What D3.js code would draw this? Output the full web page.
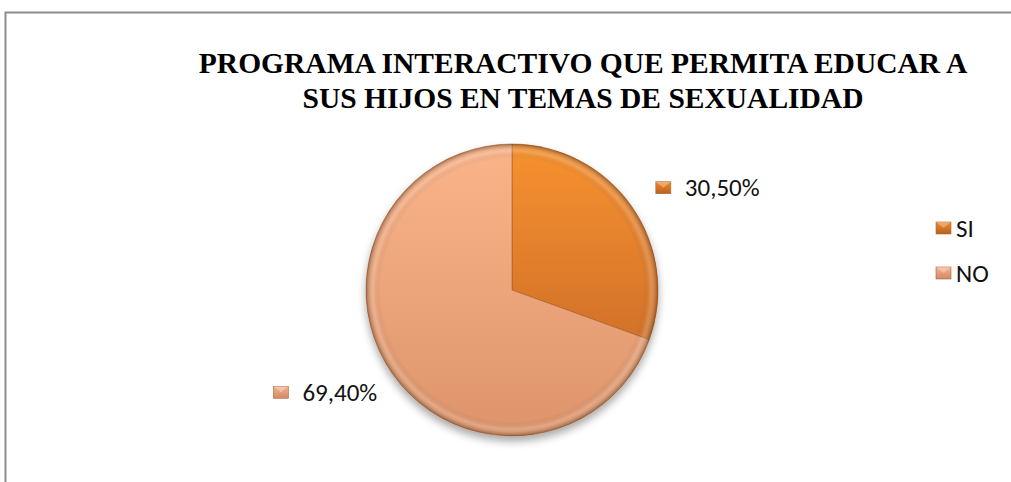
<!DOCTYPE html>
<html>
<head>
	<script src="https://d3js.org/d3.v7.min.js"></script>
	<title>Programa interactivo</title>
	<style>
		body { margin: 0; background: #fff; overflow: hidden; }
		svg { display: block; }
	</style>
</head>
<body>
	<svg id="chart" width="1011" height="482"></svg>
	<script>
		// data
		var categories = ["SI", "NO"];
		var values = [30.5, 69.4];
		var valueLabels = ["30,50%", "69,40%"];
		var titleLines = ["PROGRAMA INTERACTIVO QUE PERMITA EDUCAR A", "SUS HIJOS EN TEMAS DE SEXUALIDAD"];

		var svg = d3.select("#chart");
		var width = +svg.attr("width");
		var height = +svg.attr("height");
		var labelFont = "Carlito, Lato, 'Liberation Sans', sans-serif";

		var colors = d3.scaleOrdinal().domain(categories)
			.range([["#f7922f", "#d2712a"], ["#fbb48a", "#dd946b"]]);
		var markerColor = d3.scaleOrdinal().domain(categories).range([["#f08a2e", "#b8621f"], ["#f6b08a", "#d08a66"]]);

		var defs = svg.append("defs");
		categories.forEach(function(c, i) {
			var g = defs.append("linearGradient").attr("id", "fill" + i)
				.attr("x1", 0).attr("y1", 0).attr("x2", 0).attr("y2", 1);
			g.append("stop").attr("offset", "0%").attr("stop-color", colors(c)[0]);
			g.append("stop").attr("offset", "100%").attr("stop-color", colors(c)[1]);
			var m = defs.append("linearGradient").attr("id", "mk" + i)
				.attr("x1", 0).attr("y1", 0).attr("x2", 0).attr("y2", 1);
			m.append("stop").attr("offset", "0%").attr("stop-color", markerColor(c)[0]);
			m.append("stop").attr("offset", "100%").attr("stop-color", markerColor(c)[1]);
		});
		// bevel round the rim
		var rim = defs.append("radialGradient").attr("id", "rim")
			.attr("gradientUnits", "userSpaceOnUse");
		rim.append("stop").attr("offset", "90%").attr("stop-color", "#000").attr("stop-opacity", 0);
		rim.append("stop").attr("offset", "95%").attr("stop-color", "#fff").attr("stop-opacity", 0.15);
		rim.append("stop").attr("offset", "100%").attr("stop-color", "#5a2a0a").attr("stop-opacity", 0.5);

		var shadow = defs.append("filter").attr("id", "shadow")
			.attr("x", "-20%").attr("y", "-20%").attr("width", "140%").attr("height", "150%");
		shadow.append("feGaussianBlur").attr("in", "SourceAlpha").attr("stdDeviation", 4);
		shadow.append("feOffset").attr("dy", 5).attr("result", "b");
		shadow.append("feComponentTransfer").append("feFuncA").attr("type", "linear").attr("slope", 0.35);
		var merge = shadow.append("feMerge");
		merge.append("feMergeNode");
		merge.append("feMergeNode").attr("in", "SourceGraphic");

		// frame: only top and left edges are in view
		svg.append("path")
			.attr("d", "M" + width + ",12.5H5.5V" + height)
			.attr("fill", "none").attr("stroke", "#8c8c8c").attr("stroke-width", 2);

		// title
		svg.append("text")
			.attr("x", 583).attr("y", 73)
			.attr("text-anchor", "middle")
			.attr("font-family", "'Liberation Serif', 'Times New Roman', serif")
			.attr("font-weight", "bold").attr("font-size", 29.5)
			.selectAll("tspan").data(titleLines).enter()
			.append("tspan")
			.attr("x", 583)
			.attr("dy", (d, i) => i == 0 ? 0 : 35)
			.text(d => d);

		var cx = 512, cy = 290, r = 146;
		var pie = d3.pie().sort(null).value(d => d.value);
		var arcs = pie(categories.map((c, i) => ({name: c, value: values[i], label: valueLabels[i], idx: i})));
		var arc = d3.arc().innerRadius(0).outerRadius(r);
		var labelArc = d3.arc().innerRadius(r * 1.22).outerRadius(r * 1.22);

		var pieG = svg.append("g").attr("transform", "translate(" + cx + "," + cy + ")");
		rim.attr("cx", 0).attr("cy", 0).attr("r", r);

		pieG.append("g").attr("filter", "url(#shadow)")
			.selectAll("path.slice").data(arcs).enter()
			.append("path").attr("class", "slice")
			.attr("d", arc)
			.attr("fill", d => "url(#fill" + d.data.idx + ")")
			.attr("stroke", "#9a5222").attr("stroke-width", 0.8).attr("stroke-opacity", 0.6);

		pieG.selectAll("path.rim").data(arcs).enter()
			.append("path").attr("class", "rim")
			.attr("d", arc)
			.attr("fill", "url(#rim)");

		function marker(g, x, i) {
			g.append("rect").attr("x", x).attr("y", -6).attr("width", 15).attr("height", 12)
				.attr("fill", "url(#mk" + i + ")").attr("stroke", "#a8683e").attr("stroke-width", 0.6);
			g.append("path")
				.attr("d", "M" + x + ",-6L" + (x + 7.5) + ",0L" + (x + 15) + ",-6Z")
				.attr("fill", "#fff").attr("fill-opacity", 0.3);
		}

		// data labels
		var labels = pieG.selectAll("g.lbl").data(arcs).enter()
			.append("g").attr("class", "lbl")
			.attr("transform", d => "translate(" + labelArc.centroid(d) + ")");
		labels.each(function(d) {
			var g = d3.select(this);
			var right = (d.startAngle + d.endAngle) / 2 < Math.PI;
			var t = g.append("text")
				.attr("font-family", labelFont).attr("font-size", 25).attr("fill", "#111")
				.attr("dy", "0.35em")
				.text(d.data.label);
			var w = t.node().getComputedTextLength();
			var x0 = right ? -2 : -(w + 29 - 11);
			marker(g, x0, d.data.idx);
			t.attr("x", x0 + 29);
		});

		// legend
		var legend = svg.append("g").attr("transform", "translate(936,228)");
		var items = legend.selectAll("g").data(categories).enter()
			.append("g").attr("transform", (d, i) => "translate(0," + i * 45 + ")");
		items.each(function(d, i) { marker(d3.select(this), 0, i); });
		items.append("text").attr("x", 20).attr("dy", "0.35em")
			.attr("font-family", labelFont).attr("font-size", 25).attr("fill", "#111")
			.text(d => d);
	</script>
</body>
</html>
